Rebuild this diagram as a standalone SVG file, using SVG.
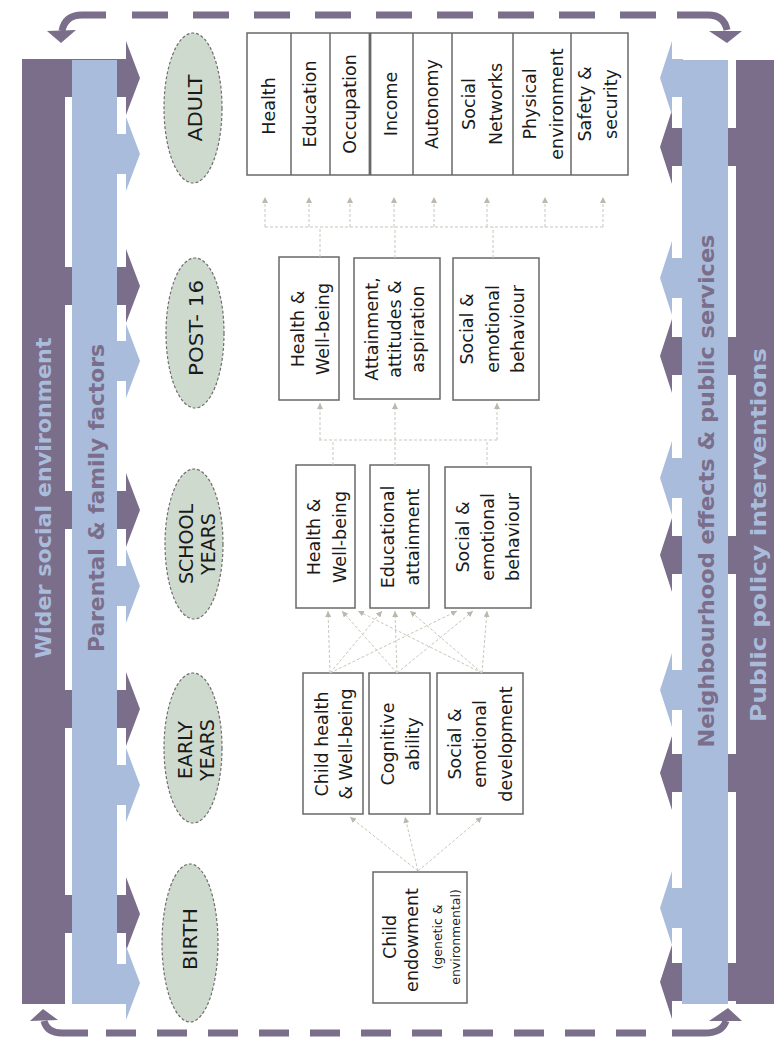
<svg xmlns="http://www.w3.org/2000/svg" width="774" height="1038" viewBox="0 0 774 1038">
<style>
.dk{fill:#7a6e8a}
.lb{fill:#a9bcdb}
.t{font-family:"DejaVu Sans",sans-serif;font-size:17.5px;fill:#1a1a1a;text-anchor:middle;dominant-baseline:central}
.ts{font-family:"DejaVu Sans",sans-serif;font-size:12.5px;fill:#1a1a1a;text-anchor:middle;dominant-baseline:central}
.st{font-family:"DejaVu Sans",sans-serif;font-size:19px;fill:#1a1a1a;text-anchor:middle;dominant-baseline:central}
.col{font-family:"DejaVu Sans",sans-serif;font-size:22px;font-weight:bold;text-anchor:middle;dominant-baseline:central}
.box{fill:#fff;stroke:#686868;stroke-width:1.5}
.ell{fill:#cfdacf;stroke:#6e6e6e;stroke-width:1.2;stroke-dasharray:3 2}
.cn{fill:none;stroke:#cbc6bb;stroke-width:1;stroke-dasharray:3 2}
.dash{fill:none;stroke:#7a6e8a;stroke-width:7}
</style>
<defs>
<marker id="ah" viewBox="0 0 6 6" refX="6" refY="3" markerWidth="6" markerHeight="6" markerUnits="userSpaceOnUse" orient="auto">
<path d="M0,0 L6,3 L0,6 z" fill="#bdb8ad"/>
</marker>
</defs>

<g id="left-columns">
<rect class="dk" x="22" y="60" width="43" height="944"/>
<path class="dk" d="M22,59 H126 V41 L140,78 L126,115 V97 H22 Z"/>
<path class="dk" d="M22,267 H126 V249 L140,286 L126,323 V305 H22 Z"/>
<path class="dk" d="M22,491 H126 V473 L140,510 L126,547 V529 H22 Z"/>
<path class="dk" d="M22,690 H126 V672 L140,709 L126,746 V728 H22 Z"/>
<path class="dk" d="M22,895 H126 V877 L140,914 L126,951 V933 H22 Z"/>
<rect class="lb" x="72" y="60" width="45" height="944"/>
<path class="lb" d="M116,134 H126 V117 L140,154 L126,191 V174 H116 Z"/>
<path class="lb" d="M116,341 H126 V324 L140,361 L126,398 V381 H116 Z"/>
<path class="lb" d="M116,566 H126 V549 L140,586 L126,623 V606 H116 Z"/>
<path class="lb" d="M116,765 H126 V748 L140,785 L126,822 V805 H116 Z"/>
<path class="lb" d="M116,964 H126 V946 L140,983 L126,1020 V1004 H116 Z"/>
<text class="col" fill="#a9bcdb" transform="translate(43,498) rotate(-90)" textLength="321" lengthAdjust="spacingAndGlyphs">Wider social environment</text>
<text class="col" fill="#7a6e8a" transform="translate(96,498) rotate(-90)" textLength="308" lengthAdjust="spacingAndGlyphs">Parental &amp; family factors</text>
</g>

<g id="right-columns">
<rect class="dk" x="736" y="60" width="38" height="944"/>
<path class="dk" d="M774,128 H672 V110 L660,147 L672,184 V166 H774 Z"/>
<path class="dk" d="M774,337 H672 V319 L660,356 L672,393 V375 H774 Z"/>
<path class="dk" d="M774,536 H672 V518 L660,555 L672,592 V574 H774 Z"/>
<path class="dk" d="M774,754 H672 V736 L660,773 L672,810 V792 H774 Z"/>
<path class="dk" d="M774,963 H672 V945 L660,982 L672,1019 V1001 H774 Z"/>
<rect class="lb" x="682" y="60" width="46" height="944"/>
<path class="lb" d="M683,59 H672 V41 L660,78 L672,115 V97 H683 Z"/>
<path class="lb" d="M683,258 H672 V241 L660,278 L672,315 V298 H683 Z"/>
<path class="lb" d="M683,458 H672 V441 L660,478 L672,515 V498 H683 Z"/>
<path class="lb" d="M683,670 H672 V653 L660,690 L672,727 V710 H683 Z"/>
<path class="lb" d="M683,888 H672 V871 L660,908 L672,945 V928 H683 Z"/>
<text class="col" fill="#7a6e8a" transform="translate(706,491) rotate(-90)" textLength="513" lengthAdjust="spacingAndGlyphs">Neighbourhood effects &amp; public services</text>
<text class="col" fill="#a9bcdb" transform="translate(758,535) rotate(-90)" textLength="374" lengthAdjust="spacingAndGlyphs">Public policy interventions</text>
</g>

<g id="cycle-arrows">
<line class="dash" x1="132" y1="15" x2="656" y2="15" stroke-dasharray="36 25"/>
<path class="dash" d="M106,15 H82 Q65,15 62,31"/>
<polygon class="dk" points="47,31 76,30 61,43"/>
<path class="dash" d="M677,15 H708 Q724,15 727,30"/>
<polygon class="dk" points="709,31 742,31 727,43"/>
<line class="dash" x1="106" y1="1033" x2="646" y2="1033" stroke-dasharray="30 21"/>
<path class="dash" d="M88,1033 H62 Q47,1033 44,1021"/>
<polygon class="dk" points="30,1021 58,1020 43,1009"/>
<path class="dash" d="M672,1033 H705 Q722,1033 726,1021"/>
<polygon class="dk" points="709,1021 742,1021 728,1008"/>
</g>

<g id="stage-adult"><ellipse class="ell" cx="193" cy="108" rx="29" ry="75"/><text class="st" transform="translate(195,108) rotate(-90)" textLength="67" lengthAdjust="spacingAndGlyphs">ADULT</text></g>
<g id="stage-post16"><ellipse class="ell" cx="195" cy="333" rx="29" ry="75"/><text class="st" transform="translate(196,328) rotate(-90)" textLength="96" lengthAdjust="spacingAndGlyphs">POST- 16</text></g>
<g id="stage-school"><ellipse class="ell" cx="194" cy="544" rx="29" ry="75"/><text class="st" transform="translate(186,544) rotate(-90)">SCHOOL</text><text class="st" transform="translate(208,544) rotate(-90)">YEARS</text></g>
<g id="stage-early"><ellipse class="ell" cx="193" cy="748" rx="29" ry="75"/><text class="st" transform="translate(185,750) rotate(-90)">EARLY</text><text class="st" transform="translate(207,750) rotate(-90)">YEARS</text></g>
<g id="stage-birth"><ellipse class="ell" cx="190" cy="943" rx="28" ry="79"/><text class="st" transform="translate(190,939) rotate(-90)" textLength="62" lengthAdjust="spacingAndGlyphs">BIRTH</text></g>

<g id="adult-outcomes">
<rect class="box" x="247" y="33" width="381" height="142"/>
<line stroke="#686868" stroke-width="1.5" x1="291" y1="33" x2="291" y2="175"/>
<line stroke="#686868" stroke-width="1.5" x1="330" y1="33" x2="330" y2="175"/>
<line stroke="#686868" stroke-width="2.8" x1="370" y1="33" x2="370" y2="175"/>
<line stroke="#686868" stroke-width="1.5" x1="413" y1="33" x2="413" y2="175"/>
<line stroke="#686868" stroke-width="1.5" x1="452" y1="33" x2="452" y2="175"/>
<line stroke="#686868" stroke-width="1.5" x1="513" y1="33" x2="513" y2="175"/>
<line stroke="#686868" stroke-width="1.5" x1="571" y1="33" x2="571" y2="175"/>
<text class="t" transform="translate(269,106) rotate(-90)">Health</text>
<text class="t" transform="translate(310,104) rotate(-90)">Education</text>
<text class="t" transform="translate(350,104) rotate(-90)">Occupation</text>
<text class="t" transform="translate(391,104) rotate(-90)">Income</text>
<text class="t" transform="translate(432,104) rotate(-90)">Autonomy</text>
<text class="t" transform="translate(469,104) rotate(-90)">Social</text>
<text class="t" transform="translate(496,104) rotate(-90)">Networks</text>
<text class="t" transform="translate(530,104) rotate(-90)">Physical</text>
<text class="t" transform="translate(557,104) rotate(-90)">environment</text>
<text class="t" transform="translate(585,104) rotate(-90)">Safety &amp;</text>
<text class="t" transform="translate(611,104) rotate(-90)">security</text>
</g>

<g id="post16-health"><rect class="box" x="279" y="257" width="60" height="143"/><text class="t" transform="translate(298,329) rotate(-90)">Health &amp;</text><text class="t" transform="translate(323,329) rotate(-90)">Well-being</text></g>
<g id="post16-attainment"><rect class="box" x="354" y="258" width="86" height="141"/><text class="t" transform="translate(372,329) rotate(-90)">Attainment,</text><text class="t" transform="translate(395,329) rotate(-90)">attitudes &amp;</text><text class="t" transform="translate(418,329) rotate(-90)">aspiration</text></g>
<g id="post16-social"><rect class="box" x="453" y="258" width="86" height="142"/><text class="t" transform="translate(467,329) rotate(-90)">Social &amp;</text><text class="t" transform="translate(493,329) rotate(-90)">emotional</text><text class="t" transform="translate(518,329) rotate(-90)">behaviour</text></g>

<g id="school-health"><rect class="box" x="296" y="465" width="59" height="143"/><text class="t" transform="translate(314,537) rotate(-90)">Health &amp;</text><text class="t" transform="translate(340,537) rotate(-90)">Well-being</text></g>
<g id="school-education"><rect class="box" x="370" y="465" width="59" height="143"/><text class="t" transform="translate(388,537) rotate(-90)">Educational</text><text class="t" transform="translate(413,537) rotate(-90)">attainment</text></g>
<g id="school-social"><rect class="box" x="445" y="467" width="86" height="141"/><text class="t" transform="translate(463,537) rotate(-90)">Social &amp;</text><text class="t" transform="translate(488,537) rotate(-90)">emotional</text><text class="t" transform="translate(513,537) rotate(-90)">behaviour</text></g>

<g id="early-health"><rect class="box" x="303" y="673" width="60" height="141"/><text class="t" transform="translate(322,744) rotate(-90)">Child health</text><text class="t" transform="translate(346,744) rotate(-90)">&amp; Well-being</text></g>
<g id="early-cognitive"><rect class="box" x="369" y="673" width="61" height="141"/><text class="t" transform="translate(388,744) rotate(-90)">Cognitive</text><text class="t" transform="translate(413,744) rotate(-90)">ability</text></g>
<g id="early-social"><rect class="box" x="437" y="673" width="86" height="141"/><text class="t" transform="translate(455,744) rotate(-90)">Social &amp;</text><text class="t" transform="translate(480,744) rotate(-90)">emotional</text><text class="t" transform="translate(506,744) rotate(-90)">development</text></g>

<g id="child-endowment"><rect class="box" x="373" y="872" width="94" height="131"/><text class="t" transform="translate(390,937) rotate(-90)">Child</text><text class="t" transform="translate(412,940) rotate(-90)">endowment</text><text class="ts" transform="translate(437,937) rotate(-90)">(genetic &amp;</text><text class="ts" transform="translate(455,937) rotate(-90)">environmental)</text></g>

<g id="connectors">
<line class="cn" x1="418" y1="871" x2="350" y2="817" marker-end="url(#ah)"/>
<line class="cn" x1="418" y1="871" x2="405" y2="817" marker-end="url(#ah)"/>
<line class="cn" x1="418" y1="871" x2="482" y2="817" marker-end="url(#ah)"/>
<line class="cn" x1="330" y1="673" x2="328" y2="611" marker-end="url(#ah)"/>
<line class="cn" x1="330" y1="673" x2="382" y2="611" marker-end="url(#ah)"/>
<line class="cn" x1="330" y1="673" x2="457" y2="611" marker-end="url(#ah)"/>
<line class="cn" x1="397" y1="673" x2="342" y2="611" marker-end="url(#ah)"/>
<line class="cn" x1="397" y1="673" x2="395" y2="611" marker-end="url(#ah)"/>
<line class="cn" x1="397" y1="673" x2="473" y2="611" marker-end="url(#ah)"/>
<line class="cn" x1="482" y1="673" x2="358" y2="611" marker-end="url(#ah)"/>
<line class="cn" x1="482" y1="673" x2="410" y2="611" marker-end="url(#ah)"/>
<line class="cn" x1="482" y1="673" x2="487" y2="611" marker-end="url(#ah)"/>
<path class="cn" d="M333,465 V440 M395,465 V440 M487,465 V440 M319,440 H497"/>
<line class="cn" x1="320" y1="440" x2="320" y2="403" marker-end="url(#ah)"/>
<line class="cn" x1="395" y1="440" x2="395" y2="403" marker-end="url(#ah)"/>
<line class="cn" x1="497" y1="440" x2="497" y2="403" marker-end="url(#ah)"/>
<path class="cn" d="M320,257 V227 M395,258 V227 M493,258 V227 M265,227 H603"/>
<line class="cn" x1="265" y1="227" x2="265" y2="197" marker-end="url(#ah)"/>
<line class="cn" x1="309" y1="227" x2="309" y2="197" marker-end="url(#ah)"/>
<line class="cn" x1="350" y1="227" x2="350" y2="197" marker-end="url(#ah)"/>
<line class="cn" x1="394" y1="227" x2="394" y2="197" marker-end="url(#ah)"/>
<line class="cn" x1="434" y1="227" x2="434" y2="197" marker-end="url(#ah)"/>
<line class="cn" x1="487" y1="227" x2="487" y2="197" marker-end="url(#ah)"/>
<line class="cn" x1="545" y1="227" x2="545" y2="197" marker-end="url(#ah)"/>
<line class="cn" x1="603" y1="227" x2="603" y2="197" marker-end="url(#ah)"/>
</g>
</svg>
